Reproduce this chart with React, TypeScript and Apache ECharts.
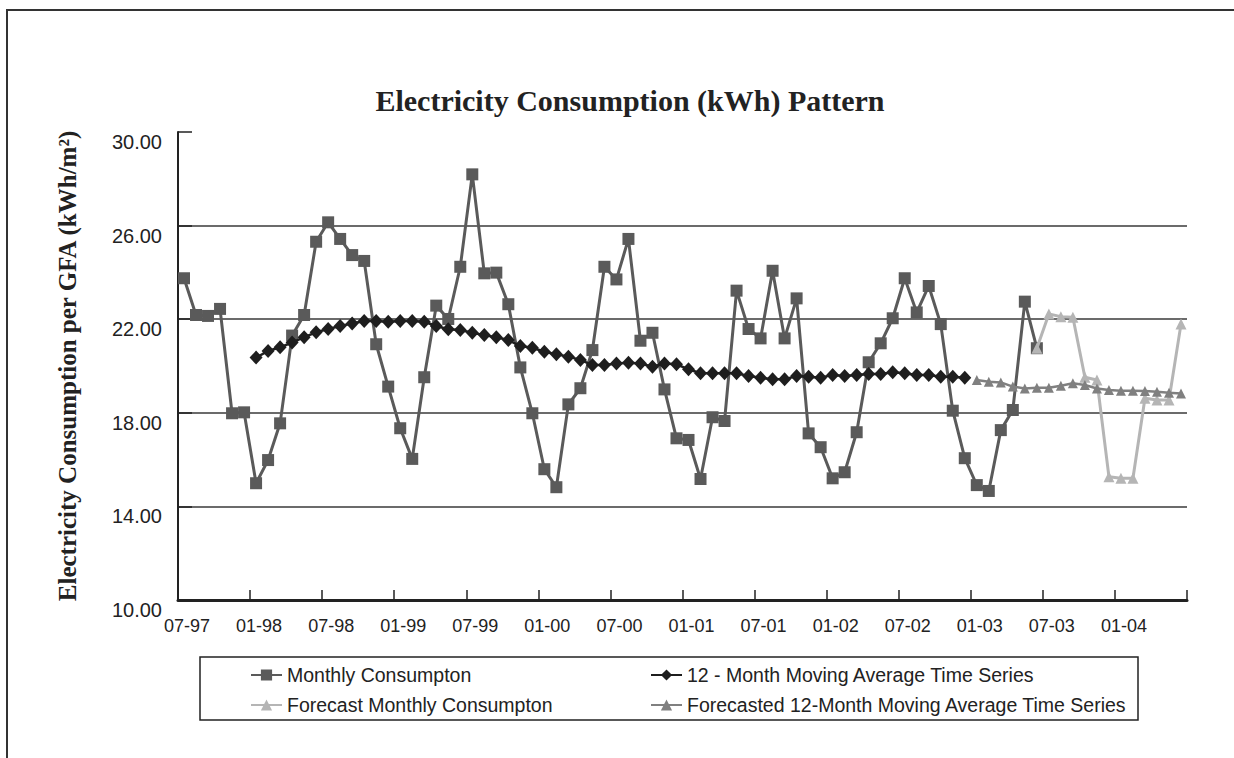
import React, { useEffect, useRef } from "react";
import * as echarts from "echarts";

const categories = [
  "07-97","08-97","09-97","10-97","11-97","12-97",
  "01-98","02-98","03-98","04-98","05-98","06-98","07-98","08-98","09-98","10-98","11-98","12-98",
  "01-99","02-99","03-99","04-99","05-99","06-99","07-99","08-99","09-99","10-99","11-99","12-99",
  "01-00","02-00","03-00","04-00","05-00","06-00","07-00","08-00","09-00","10-00","11-00","12-00",
  "01-01","02-01","03-01","04-01","05-01","06-01","07-01","08-01","09-01","10-01","11-01","12-01",
  "01-02","02-02","03-02","04-02","05-02","06-02","07-02","08-02","09-02","10-02","11-02","12-02",
  "01-03","02-03","03-03","04-03","05-03","06-03","07-03","08-03","09-03","10-03","11-03","12-03",
  "01-04","02-04","03-04","04-04","05-04","06-04",
];

const yTicks = { min: 10, max: 30, interval: 4 };

// 07-97 .. 06-03
const monthlyConsumption = [
  23.75, 22.18, 22.14, 22.44, 17.98, 18.02, 14.99, 15.98, 17.55, 21.3,
  22.18, 25.31, 26.14, 25.43, 24.74, 24.49, 20.93, 19.12, 17.34, 16.03,
  19.52, 22.58, 22.01, 24.24, 28.19, 23.96, 23.99, 22.64, 19.94, 17.98,
  15.59, 14.82, 18.36, 19.05, 20.68, 24.24, 23.7, 25.43, 21.08, 21.42,
  19.0, 16.91, 16.84, 15.17, 17.81, 17.65, 23.22, 21.58, 21.18, 24.07,
  21.18, 22.89, 17.12, 16.53, 15.2, 15.46, 17.17, 20.16, 20.97, 22.04,
  23.75, 22.29, 23.42, 21.79, 18.09, 16.06, 14.91, 14.66, 17.26, 18.12,
  22.75, 20.76,
];
const monthlyStart = 0;

// 01-98 .. 12-02
const movingAverage = [
  20.36, 20.64, 20.8, 21.0, 21.23, 21.44, 21.58, 21.71, 21.82, 21.92,
  21.92, 21.89, 21.92, 21.92, 21.89, 21.71, 21.57, 21.54, 21.42, 21.32,
  21.23, 21.11, 20.85, 20.78, 20.61, 20.5, 20.4, 20.26, 20.04, 20.04,
  20.11, 20.14, 20.11, 19.97, 20.11, 20.07, 19.86, 19.69, 19.69, 19.69,
  19.69, 19.57, 19.5, 19.43, 19.43, 19.57, 19.54, 19.5, 19.62, 19.57,
  19.62, 19.66, 19.66, 19.73, 19.69, 19.62, 19.62, 19.54, 19.54, 19.5,
];
const movingAverageStart = 6;

// 06-03 .. 06-04
const forecastMonthly = [
  20.76, 22.22, 22.11, 22.08, 19.52, 19.4, 15.27, 15.2, 15.2, 18.62, 18.55, 18.55, 21.79,
];
const forecastMonthlyStart = 71;

// 01-03 .. 06-04
const forecastMovingAverage = [
  19.4, 19.33, 19.3, 19.12, 19.04, 19.07, 19.07, 19.16, 19.26, 19.19,
  19.04, 18.97, 18.94, 18.94, 18.93, 18.9, 18.86, 18.83,
];
const forecastMovingAverageStart = 66;

const seriesNames = [
  "Monthly Consumpton",
  "12 - Month Moving Average Time Series",
  "Forecast Monthly Consumpton",
  "Forecasted 12-Month Moving Average Time Series",
];

function place(values: number[], start: number): (number | null)[] {
  const out: (number | null)[] = categories.map(() => null);
  values.forEach((v, i) => {
    out[start + i] = v;
  });
  return out;
}

const SANS = '"Liberation Sans", Arial, sans-serif';
const SERIF = '"Liberation Serif", "Times New Roman", serif';

export default function App() {
  const ref = useRef<HTMLDivElement>(null);

  useEffect(() => {
    if (!ref.current) return;
    const chart = echarts.init(ref.current, undefined, { renderer: "svg" });
    const lineSeries = (
      name: string,
      data: (number | null)[],
      color: string,
      symbol: string,
      size: number | number[],
      width: number,
      z: number
    ) => ({
      name,
      type: "line",
      data,
      symbol,
      symbolSize: size,
      showSymbol: true,
      showAllSymbol: true,
      connectNulls: false,
      z,
      lineStyle: { color, width },
      itemStyle: { color, borderWidth: 0 },
    });

    const legendText = { fontFamily: SANS, fontSize: 19.5, color: "#222", lineHeight: 20 };

    chart.setOption({
      animation: false,
      backgroundColor: "#ffffff",
      grid: { left: 178, top: 132, right: 47, bottom: 158, containLabel: false },
      graphic: [
        {
          type: "rect",
          shape: { x: 7, y: 10, width: 1300, height: 800 },
          style: { fill: "none", stroke: "#333", lineWidth: 2 },
          silent: true,
        },
        {
          type: "rect",
          shape: { x: 200, y: 657, width: 938, height: 63 },
          style: { fill: "none", stroke: "#222", lineWidth: 1.5 },
          silent: true,
        },
        {
          type: "text",
          x: 630,
          y: 100,
          style: {
            text: "Electricity Consumption (kWh) Pattern",
            textAlign: "center",
            textVerticalAlign: "middle",
            fill: "#222",
            font: `bold 30px ${SERIF}`,
          },
        },
      ],
      legend: [
        {
          orient: "vertical",
          left: 245,
          top: 660,
          itemWidth: 31,
          itemHeight: 14,
          itemGap: 10,
          data: [seriesNames[0], seriesNames[2]],
          textStyle: legendText,
        },
        {
          orient: "vertical",
          left: 645,
          top: 660,
          itemWidth: 31,
          itemHeight: 14,
          itemGap: 10,
          data: [seriesNames[1], seriesNames[3]],
          textStyle: legendText,
        },
      ],
      xAxis: {
        type: "category",
        data: categories,
        boundaryGap: true,
        axisLine: { show: true, lineStyle: { color: "#222", width: 3 } },
        axisTick: { show: true, inside: true, length: 10, interval: 5, lineStyle: { color: "#222", width: 1.5 } },
        axisLabel: {
          interval: 5,
          margin: 17,
          color: "#222",
          fontFamily: SANS,
          fontSize: 18,
          padding: [0, 0, 0, 6],
        },
        splitLine: { show: false },
      },
      yAxis: {
        type: "value",
        min: yTicks.min,
        max: yTicks.max,
        interval: yTicks.interval,
        name: "Electricity Consumption per GFA (kWh/m²)",
        nameLocation: "middle",
        nameRotate: 90,
        nameGap: 98,
        nameTextStyle: { fontFamily: SERIF, fontWeight: "bold", fontSize: 25, color: "#222" },
        axisLine: { show: true, lineStyle: { color: "#222", width: 2 } },
        axisTick: { show: true, inside: true, length: 14, lineStyle: { color: "#222", width: 1.5 } },
        axisLabel: {
          margin: 16,
          color: "#222",
          fontFamily: SANS,
          fontSize: 20,
          verticalAlign: "top",
          formatter: (v: number) => v.toFixed(2),
        },
        splitLine: {
          show: true,
          showMaxLine: false,
          lineStyle: { color: "#3a3a3a", width: 1.5 },
        },
      },
      series: [
        lineSeries(seriesNames[0], place(monthlyConsumption, monthlyStart), "#5a5a5a", "rect", 12, 3, 2),
        lineSeries(seriesNames[1], place(movingAverage, movingAverageStart), "#1e1e1e", "diamond", [13, 14], 2.5, 3),
        lineSeries(seriesNames[2], place(forecastMonthly, forecastMonthlyStart), "#b5b5b5", "triangle", 11, 3, 4),
        lineSeries(seriesNames[3], place(forecastMovingAverage, forecastMovingAverageStart), "#808080", "triangle", 10, 2.5, 5),
      ],
    });
    return () => chart.dispose();
  }, []);

  return (
    <div
      ref={ref}
      style={{ position: "fixed", left: 0, top: 0, width: 1234, height: 758, background: "#fff" }}
    />
  );
}
